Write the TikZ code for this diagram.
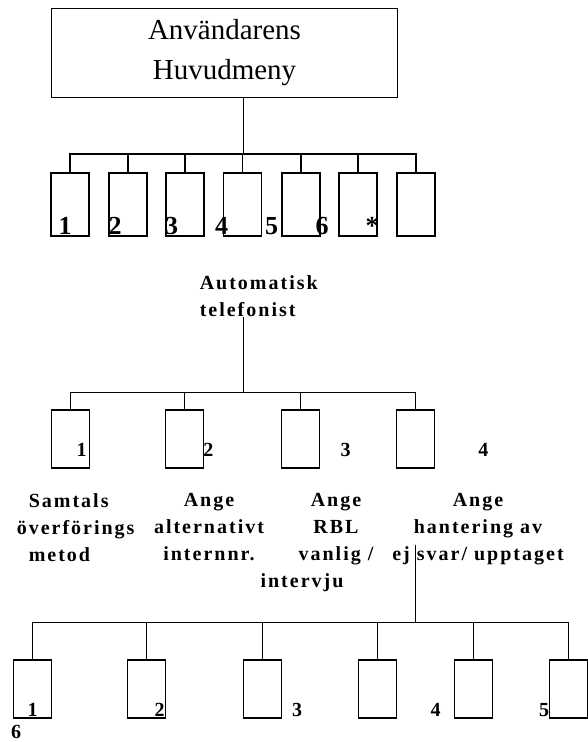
\documentclass[tikz,border=0pt]{standalone}
\usepackage{fontspec}
\setmainfont{Liberation Serif}
\newfontfamily\spaced[LetterSpace=10]{Liberation Serif}

\begin{document}
\begin{tikzpicture}[x=1pt,y=-1pt,line width=1.5pt,
  key/.style={draw,rectangle,minimum width=38pt,minimum height=58pt,inner sep=0pt},
  num/.style={anchor=base,inner sep=0pt,font=\bfseries\fontsize{20}{24}\selectfont},
  lbl/.style={anchor=north,inner sep=0pt,align=center,
    font=\spaced\bfseries\fontsize{20}{26.7}\selectfont}
]
\useasboundingbox (0,0) rectangle (587,742);

% main menu box
\node[draw,minimum width=346pt,minimum height=89pt,inner sep=0pt,align=center,
  font=\fontsize{29}{40}\selectfont] (menu) at (224.5,53) {\raisebox{-3pt}{Användarens}\\\raisebox{-3pt}{Huvudmeny}};

% first row: seven keys with their digits
\foreach \x [count=\i] in {70,128,185,242.5,301,358,416}{
  \node[key,minimum height=63pt] (k\i) at (\x,204.7) {};
}
\foreach \x/\t [count=\i] in {65/1,115/2,171.5/3,221.5/4,271.5/5,322/6,372/*}{
  \node[num,font=\bfseries\fontsize{26}{30}\selectfont] (kn\i) at (\x,234) {\t};
}
\coordinate (bar1) at (243.4,154);
\draw (menu.south -| bar1) -- (bar1);
\foreach \i in {1,...,7}{
  \draw (k\i.north) |- (bar1);
}

% second level
\node[lbl,anchor=north west,align=left] (auto) at (199,275) {Automatisk\\telefonist};
\foreach \x [count=\i] in {70.5,184.5,300.5,415.7}{
  \node[key] (a\i) at (\x,439.2) {};
}
\foreach \x [count=\i] in {81.7,208.3,345.7,483.3}{
  \node[num] (an\i) at (\x,456) {\i};
}
\coordinate (bar2) at (243.3,392.3);
\draw (auto.south -| bar2) -- (bar2);
\foreach \i in {1,...,4}{
  \draw (a\i.north) |- (bar2);
}

% texts under the second level
\node[lbl,anchor=north west,align=left] (samt) at (16,493)
  {\hspace*{12pt}Samtals\\överförings\\\hspace*{12pt}metod};
\node[lbl] (alt) at (209,493) {Ange\\alternativt\\internnr.};
\node[lbl] (rbl) at (336,493) {Ange\\RBL\\vanlig /\\intervju\hspace*{68pt}};
\node[lbl] (hant) at (478,493) {Ange\\hantering av\\ej svar/ upptaget};

% third level
\foreach \x [count=\i] in {32.5,146.7,262.5,377.3,473.7,568.5}{
  \node[key] (e\i) at (\x,689.2) {};
}
\foreach \x/\y [count=\i] in {32.7/716.7,159.7/716.7,297/716.7,435.7/716.7,544/716.7,16.2/738.5}{
  \node[num] (en\i) at (\x,\y) {\i};
}
\coordinate (bar3) at (415.3,622.3);
\draw ([yshift=21pt]hant.south -| bar3) -- (bar3);
\foreach \i in {1,...,6}{
  \draw (e\i.north) |- (bar3);
}
\end{tikzpicture}
\end{document}
